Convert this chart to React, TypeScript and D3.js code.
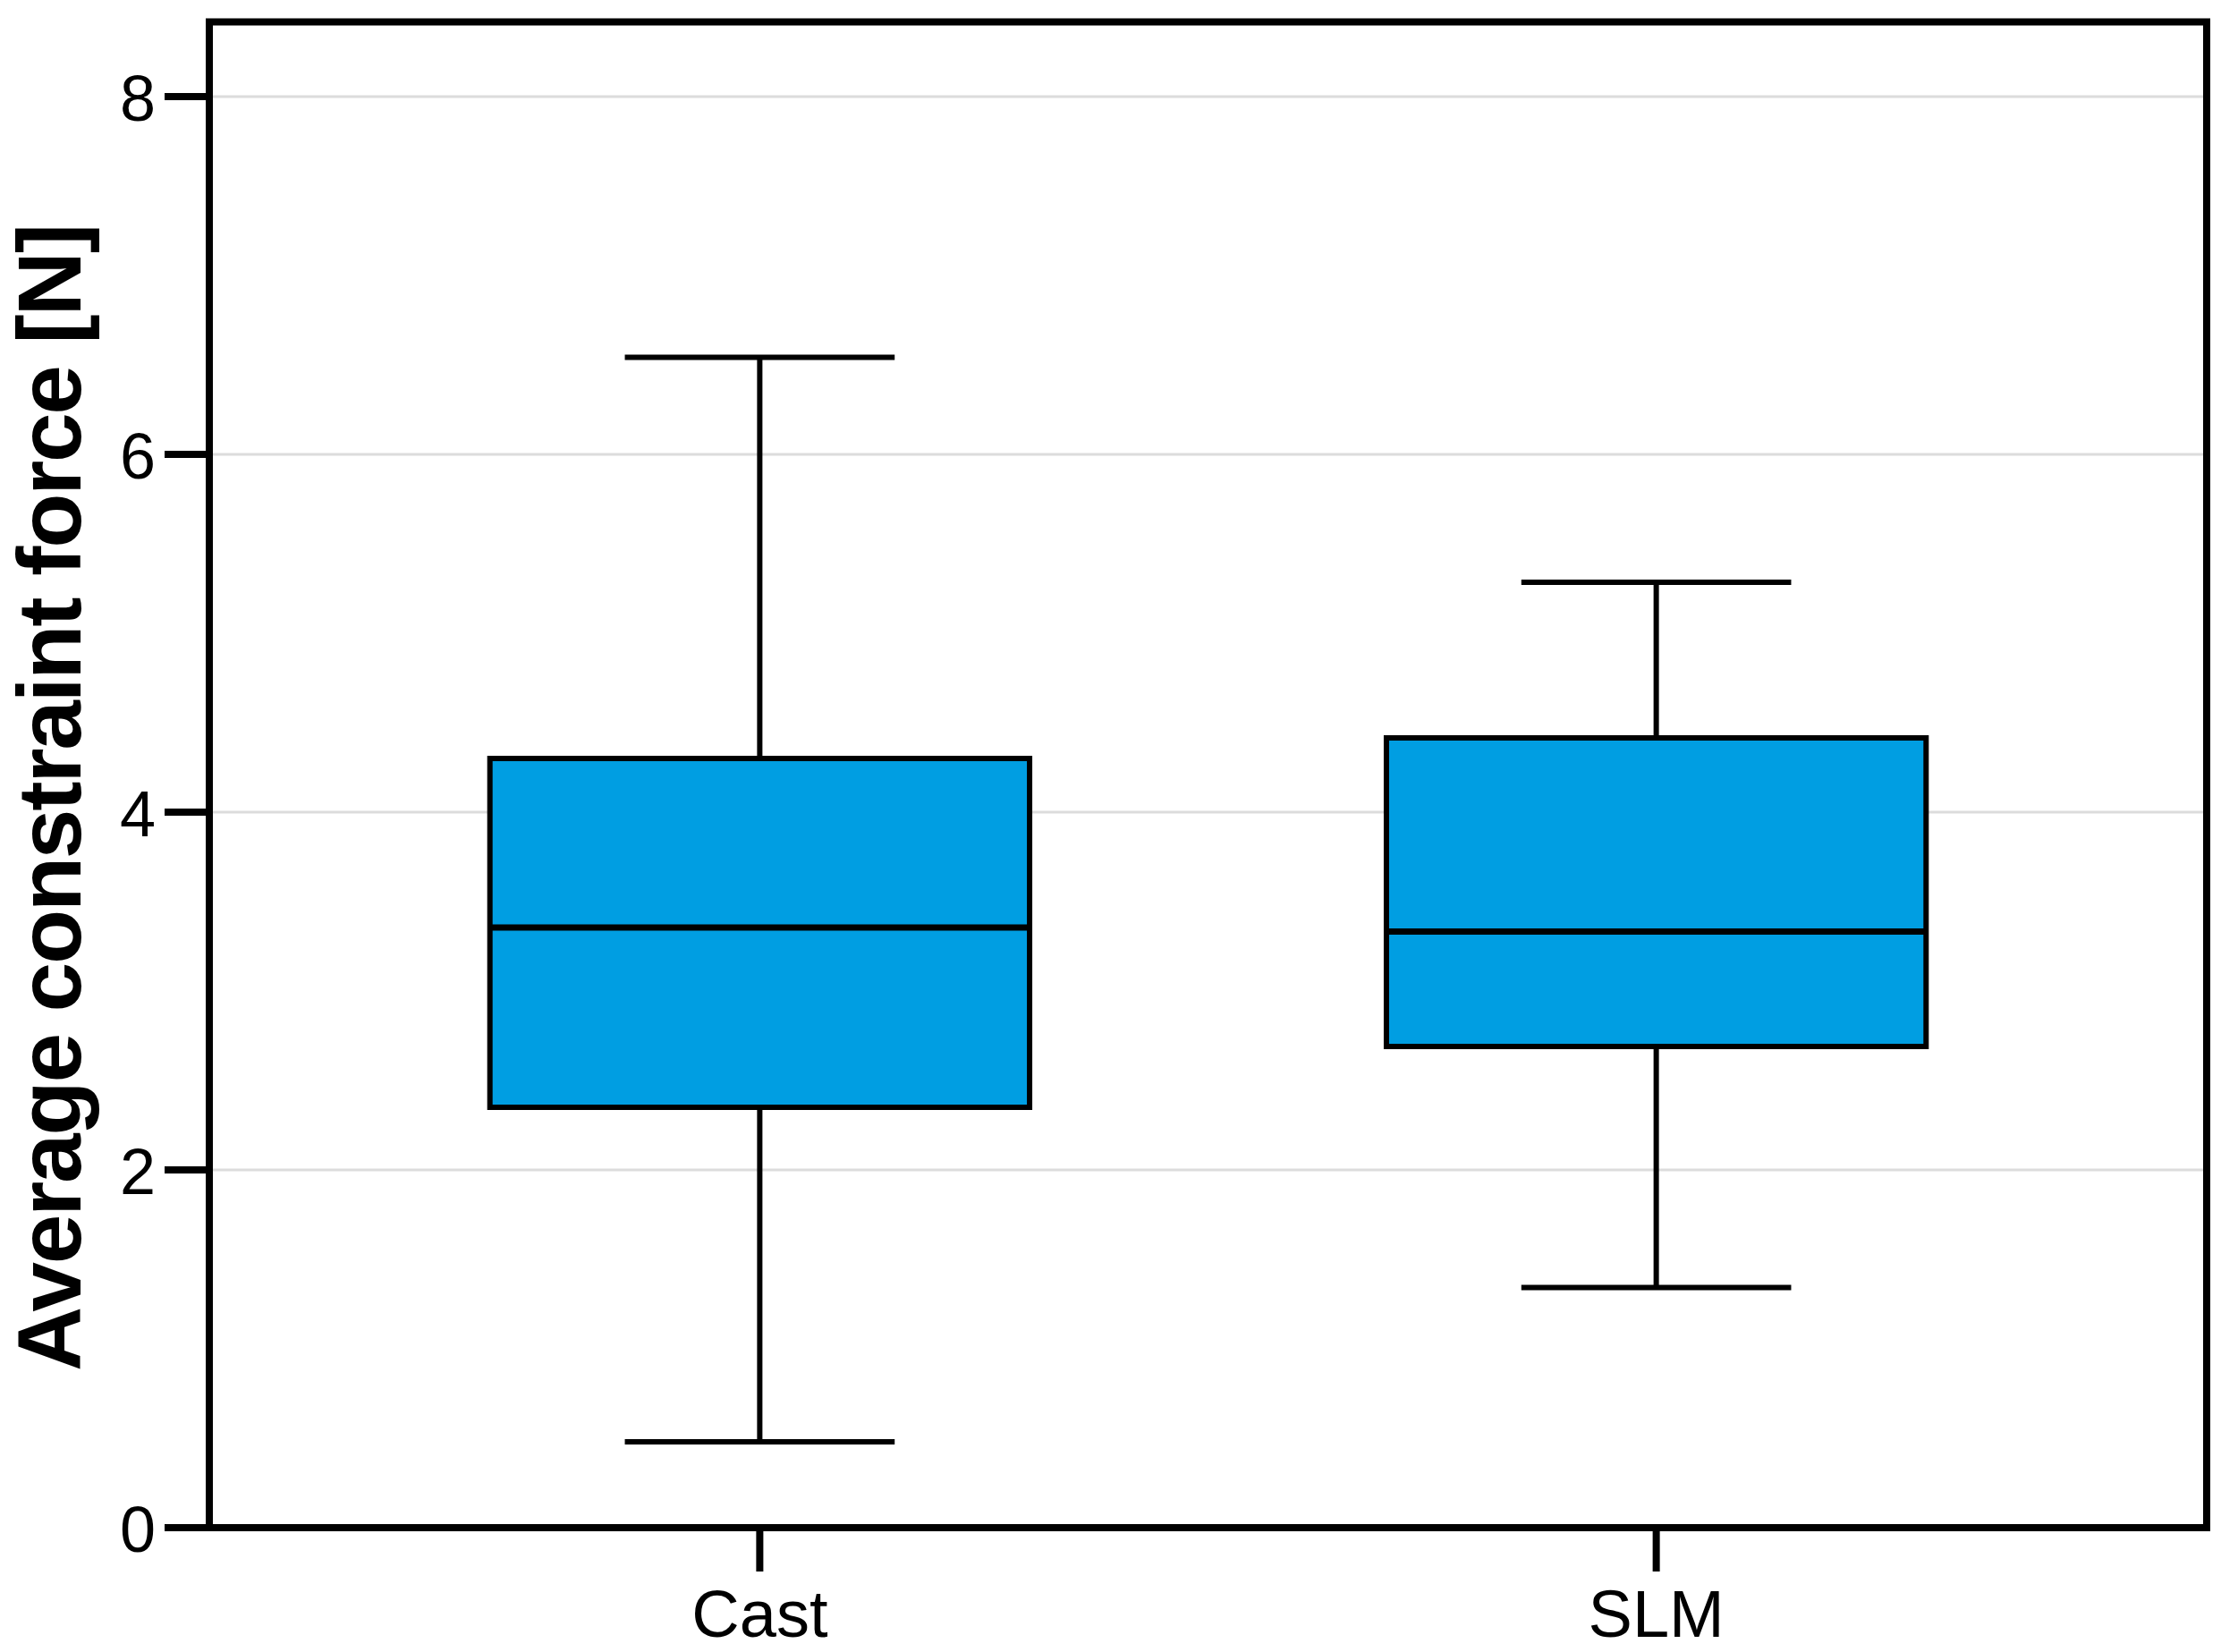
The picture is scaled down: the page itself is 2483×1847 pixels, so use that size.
import React from "react";
import * as d3 from "d3";

const categories = ["Cast", "SLM"];
const whiskerLow = [0.48, 1.343];
const q1 = [2.35, 2.69];
const median = [3.355, 3.333];
const q3 = [4.3, 4.415];
const whiskerHigh = [6.543, 5.285];
const yTicks = [0, 2, 4, 6, 8];
const yTitle = "Average constraint force [N]";

const W = 2483;
const H = 1847;
const left = 234;
const right = 2467;
const top = 24.5;
const bottom = 1708;
const FONT = "Arial, 'Liberation Sans', Helvetica, sans-serif";
const FILL = "#009ee2";

export default function App() {
  const y = d3.scaleLinear().domain([0, 8.4175]).range([bottom, top]);
  const x = d3.scalePoint<string>().domain(categories).range([left, right]).padding(0.614);
  const step = x.step();
  const boxW = step * 0.602;
  const capW = boxW / 2;

  return (
    <svg width={W} height={H} style={{ position: "absolute", left: 0, top: 0, background: "#fff" }}>
      <rect x={0} y={0} width={W} height={H} fill="#fff" />
      {/* gridlines */}
      {yTicks.filter((t) => t > 0).map((t) => (
        <line key={"g" + t} x1={left} x2={right} y1={y(t)} y2={y(t)} stroke="#dcdcdc" strokeWidth={3} />
      ))}
      {/* boxes */}
      {categories.map((c, i) => {
        const cx = x(c) as number;
        return (
          <g key={c}>
            <line x1={cx} x2={cx} y1={y(whiskerHigh[i])} y2={y(q3[i])} stroke="#000" strokeWidth={6} />
            <line x1={cx} x2={cx} y1={y(q1[i])} y2={y(whiskerLow[i])} stroke="#000" strokeWidth={6} />
            <line x1={cx - capW / 2} x2={cx + capW / 2} y1={y(whiskerHigh[i])} y2={y(whiskerHigh[i])} stroke="#000" strokeWidth={6} />
            <line x1={cx - capW / 2} x2={cx + capW / 2} y1={y(whiskerLow[i])} y2={y(whiskerLow[i])} stroke="#000" strokeWidth={6} />
            <rect x={cx - boxW / 2} y={y(q3[i])} width={boxW} height={y(q1[i]) - y(q3[i])} fill={FILL} stroke="#000" strokeWidth={6} />
            <line x1={cx - boxW / 2} x2={cx + boxW / 2} y1={y(median[i])} y2={y(median[i])} stroke="#000" strokeWidth={7} />
          </g>
        );
      })}
      {/* frame */}
      <rect x={left} y={top} width={right - left} height={bottom - top} fill="none" stroke="#000" strokeWidth={8} />
      {/* y ticks */}
      {yTicks.map((t) => (
        <g key={"y" + t}>
          <line x1={left - 50} x2={left} y1={y(t)} y2={y(t)} stroke="#000" strokeWidth={8} />
          <text x={174} y={y(t) + 27} textAnchor="end" fontFamily={FONT} fontSize={72} fill="#000">
            {t}
          </text>
        </g>
      ))}
      {/* x ticks */}
      {categories.map((c) => {
        const cx = x(c) as number;
        return (
          <g key={"x" + c}>
            <line x1={cx} x2={cx} y1={bottom} y2={bottom + 49} stroke="#000" strokeWidth={8} />
            <text x={cx} y={1830} textAnchor="middle" fontFamily={FONT} fontSize={74} fill="#000">
              {c}
            </text>
          </g>
        );
      })}
      {/* y title */}
      <text
        transform={`translate(90, 891.5) rotate(-90)`}
        textAnchor="middle"
        fontFamily={FONT}
        fontWeight="bold"
        fontSize={100}
        textLength={1283}
        lengthAdjust="spacing"
        fill="#000"
      >
        {yTitle}
      </text>
    </svg>
  );
}
